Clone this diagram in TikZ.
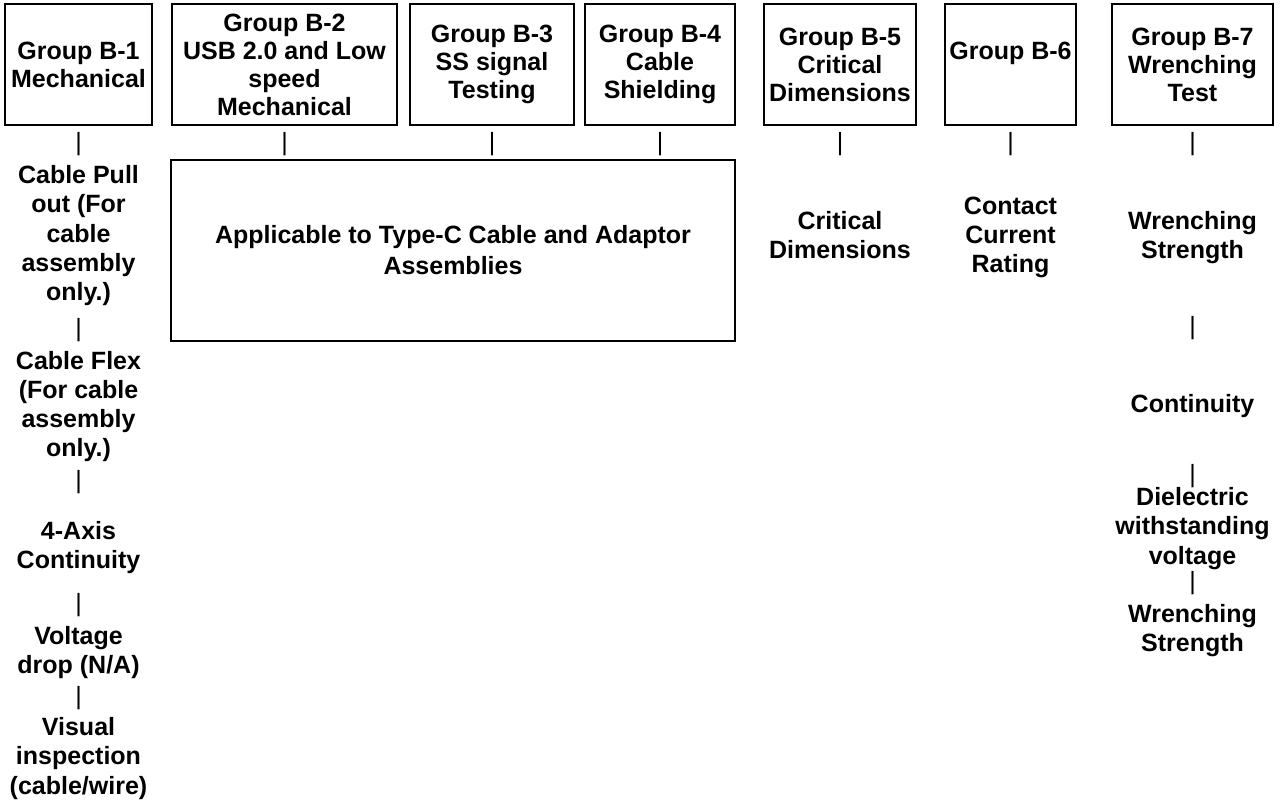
\documentclass[tikz,border=0pt]{standalone}
\usepackage{fontspec}
\setmainfont{Liberation Sans}
\usetikzlibrary{positioning}

\begin{document}
\begin{tikzpicture}[x=1pt, y=-1pt, line width=2pt,
  every node/.style={font=\bfseries\fontsize{25}{29.3}\selectfont, align=center, inner sep=0pt},
  group box/.style={draw, minimum height=121, font=\bfseries\fontsize{25}{28}\selectfont},
  note box/.style={draw, font=\bfseries\fontsize{25}{31}\selectfont},
  test/.style={anchor=base}, % base = baseline of the last line
  bar/.style={anchor=base, font=\fontsize{25}{29.3}\selectfont}]
\useasboundingbox (0,0) rectangle (1282,803);

% group boxes along the top
\node[group box, minimum width=147] (b1) at (78.5,64.5) {Group B-1\\Mechanical};
\node[group box, minimum width=225] (b2) at (284.5,64.5) {Group B-2\\USB 2.0 and Low\\speed\\Mechanical};
\node[group box, minimum width=164] (b3) at (492,64.5) {Group B-3\\SS signal\\Testing};
\node[group box, minimum width=150] (b4) at (660,64.5) {Group B-4\\Cable\\Shielding};
\node[group box, minimum width=152] (b5) at (840,64.5) {Group B-5\\Critical\\Dimensions};
\node[group box, minimum width=131] (b6) at (1010.5,64.5) {Group B-6\\\mbox{}}; % text sits on the first line
\node[group box, minimum width=161] (b7) at (1192.5,64.5) {Group B-7\\Wrenching\\Test};

% bars under each box
\node[bar] (p1) at (78.5,150.5) {|};
\node[bar] (p2) at (284.5,150.5) {|};
\node[bar] (p3) at (492,150.5) {|};
\node[bar] (p4) at (660,150.5) {|};
\node[bar] (p5) at (840,150.5) {|};
\node[bar] (p6) at (1010.5,150.5) {|};
\node[bar] (p7) at (1192.5,150.5) {|};

% shared box for B-2 .. B-4
\node[note box, minimum width=564, minimum height=181] (n1) at (453,250.5) {Applicable to Type-C Cable and Adaptor\\Assemblies};

% B-1 tests
\node[test] (c1) at (78.5,300.7) {Cable Pull\\out (For\\cable\\assembly\\only.)};
\node[bar] (q1) at (78.5,336) {|};
\node[test] (c2) at (78.5,456.9) {Cable Flex\\(For cable\\assembly\\only.)};
\node[bar] (q2) at (78.5,488) {|};
\node[test] (c3) at (78.5,568.3) {4-Axis\\Continuity};
\node[bar] (q3) at (78.5,611) {|};
\node[test] (c4) at (78.5,673.3) {Voltage\\drop (N/A)};
\node[bar] (q4) at (78.5,704.5) {|};
\node[test] (c5) at (78.5,794.1) {Visual\\inspection\\(cable/wire)};

% B-5 and B-6 tests
\node[test] (d1) at (840,258.3) {Critical\\Dimensions};
\node[test] (e1) at (1010.5,272.6) {Contact\\Current\\Rating};

% B-7 tests
\node[test] (w1) at (1192.5,258.3) {Wrenching\\Strength};
\node[bar] (r1) at (1192.5,334) {|};
\node[test] (w2) at (1192.5,412.5) {Continuity};
\node[bar] (r2) at (1192.5,482.5) {|};
\node[test] (w3) at (1192.5,564.1) {Dielectric\\withstanding\\voltage};
\node[bar] (r3) at (1192.5,589) {|};
\node[test] (w4) at (1192.5,651.8) {Wrenching\\Strength};
\end{tikzpicture}
\end{document}
